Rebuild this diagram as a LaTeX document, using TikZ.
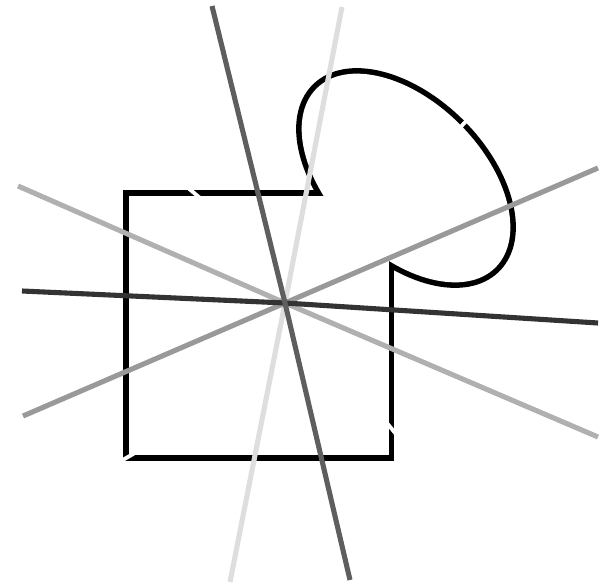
\documentclass[tikz,border=0pt]{standalone}
\begin{document}
\begin{tikzpicture}[
    x=0.02cm, y=-0.02cm,
    rim/.style={draw=black,line width=6.3pt,line join=miter},
    nick/.style={draw=white,line width=2.2pt},
    ray/.style={line width=2.9pt}
]
\useasboundingbox (0,0) rectangle (604,584);

% outline of square and blob (thick stroke, inner half covered by white)
\path[rim] (128.75,195.75) rectangle (388.75,455.25);
\path[rim] (406,178) ellipse [x radius=2.53cm, y radius=1.52cm, rotate=-45];
\fill[white] (128.75,195.75) rectangle (388.75,455.25);
\fill[white] (406,178) ellipse [x radius=2.53cm, y radius=1.52cm, rotate=-45];

\draw[nick] (187,187) -- (200,198);
\draw[nick] (457,131) -- (468,119);
\draw[nick] (386,422) -- (396,434);
\draw[nick] (121,461) -- (140,450);

\coordinate (O)  at (285,303);
\coordinate (P1) at (342,7);   \coordinate (Q1) at (230,582);
\coordinate (P2) at (18,186);  \coordinate (Q2) at (598,437);
\coordinate (P3) at (23,416);  \coordinate (Q3) at (598,168);
\coordinate (P4) at (22,291);  \coordinate (Q4) at (598,323);
\coordinate (P5) at (212,6);   \coordinate (Q5) at (350,580);

\draw[ray,black!13] (P1) -- (O) -- (Q1);
\draw[ray,black!31] (P2) -- (O) -- (Q2);
\draw[ray,black!40] (P3) -- (O) -- (Q3);
\draw[ray,black!80] (P4) -- (O) -- (Q4);
\draw[ray,black!63] (P5) -- (O) -- (Q5);
\end{tikzpicture}
\end{document}
